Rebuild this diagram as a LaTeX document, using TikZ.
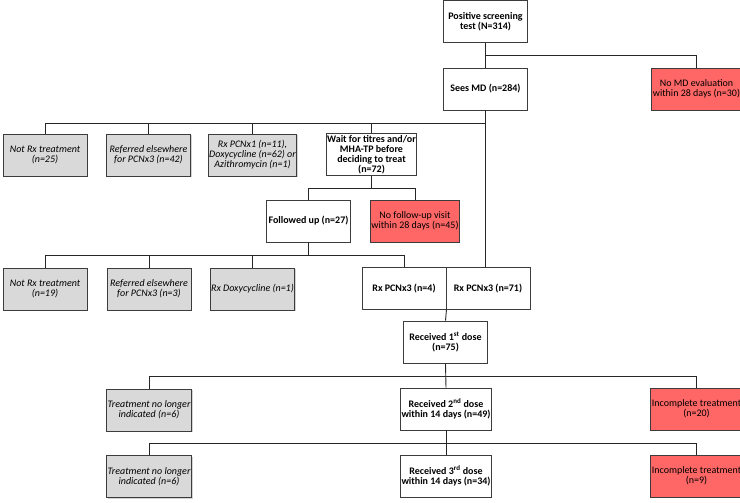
\documentclass[tikz,border=0pt]{standalone}
\usepackage{fontspec}
\setmainfont{Carlito}
\usetikzlibrary{shadows}
\definecolor{boxgray}{HTML}{D9D9D9}
\definecolor{boxred}{HTML}{FF6666}
\definecolor{edgegray}{HTML}{3C3C3C}

\begin{document}
\begin{tikzpicture}[x=1pt,y=-1pt,
  fc/.style={draw=edgegray,line width=0.9pt,minimum width=84pt,minimum height=42pt,align=center,inner sep=1pt,font=\fontsize{10}{10}\selectfont},
  fc_w/.style={fc,fill=white,font=\fontsize{10}{10}\selectfont\bfseries},
  fc_g/.style={fc,fill=boxgray,font=\fontsize{10}{10}\selectfont\itshape,drop shadow={shadow xshift=1.2pt,shadow yshift=-1.2pt,opacity=0.35}},
  fc_r/.style={fc,fill=boxred,minimum width=87pt},
  link/.style={draw=black!85,line width=0.9pt}]
\useasboundingbox (0,0) rectangle (740,503);

% branch levels
\coordinate (lv_a) at (0,55);
\coordinate (lv_b) at (0,123);
\coordinate (lv_c) at (0,188);
\coordinate (lv_d) at (0,255);
\coordinate (lv_e) at (0,376);
\coordinate (lv_f) at (0,443);

\node[fc_w] (pos_test) at (485.5,21.5) {Positive screening\\test (N=314)};
\node[fc_w] (sees_md) at (485.5,89) {Sees MD (n=284)};
\node[fc_r] (no_md) at (696.5,89) {No MD evaluation\\within 28 days (n=30)};

\node[fc_g] (notrx_a) at (45,155) {Not Rx treatment\\(n=25)};
\node[fc_g] (ref_a) at (148.5,155) {Referred elsewhere\\for PCNx3 (n=42)};
\node[fc_g] (rx_mix) at (252.5,155) {Rx PCNx1 (n=11),\\Doxycycline (n=62) or\\Azithromycin (n=1)};
\node[fc_w] (wait_t) at (371.5,154.5) {Wait for titres and/or\\MHA-TP before\\deciding to treat\\(n=72)};

\node[fc_w] (follow) at (308.5,221) {Followed up (n=27)};
\node[fc_r,minimum width=84pt] (no_follow) at (415,221) {No follow-up visit\\within 28 days (n=45)};

\node[fc_g] (notrx_b) at (45,289) {Not Rx treatment\\(n=19)};
\node[fc_g] (ref_b) at (149,289) {Referred elsewhere\\for PCNx3 (n=3)};
\node[fc_g] (rx_doxy) at (252.5,289) {Rx Doxycycline (n=1)};
\node[fc_w] (rx_4) at (404,288.5) {Rx PCNx3 (n=4)};
\node[fc_w] (rx_71) at (488,288.5) {Rx PCNx3 (n=71)};

\node[fc_w] (dose_1) at (445.5,342) {Received 1\textsuperscript{st} dose\\(n=75)};

\node[fc_g] (noind_a) at (149,410) {Treatment no longer\\indicated (n=6)};
\node[fc_w] (dose_2) at (446,409) {Received 2\textsuperscript{nd} dose\\within 14 days (n=49)};
\node[fc_r] (incomp_a) at (696.5,409) {Incomplete treatment\\(n=20)};

\node[fc_g] (noind_b) at (149,476.5) {Treatment no longer\\indicated (n=6)};
\node[fc_w] (dose_3) at (446,476) {Received 3\textsuperscript{rd} dose\\within 14 days (n=34)};
\node[fc_r] (incomp_b) at (696.5,476) {Incomplete treatment\\(n=9)};

% connectors
\draw[link] (pos_test) -- (sees_md);
\draw[link] (pos_test.south |- lv_a) -| (no_md.north);

\draw[link] (sees_md.south) -- (sees_md.south |- rx_71.north);
\foreach \k in {notrx_a,ref_a,rx_mix,wait_t}
  \draw[link] (sees_md.south |- lv_b) -| (\k.north);

\draw[link] (wait_t.south) -- (wait_t.south |- lv_c) -| (follow.north);
\draw[link] (wait_t.south |- lv_c) -| (no_follow.north);

\draw[link] (follow.south) -- (follow.south |- lv_d);
\foreach \k in {notrx_b,ref_b,rx_doxy,rx_4}
  \draw[link] (follow.south |- lv_d) -| (\k.north);

\draw[link] (rx_4.south east) -- (dose_1.north);

\draw[link] (dose_1.south) -- (dose_2.north);
\draw[link] (dose_1.south |- lv_e) -| (noind_a.north);
\draw[link] (dose_1.south |- lv_e) -| (incomp_a.north);

\draw[link] (dose_2.south) -- (dose_3.north);
\draw[link] (dose_2.south |- lv_f) -| (noind_b.north);
\draw[link] (dose_2.south |- lv_f) -| (incomp_b.north);
\end{tikzpicture}
\end{document}
